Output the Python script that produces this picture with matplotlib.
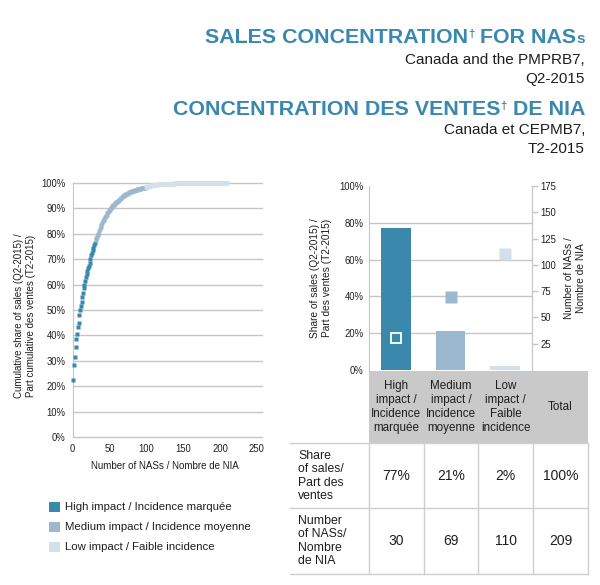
import numpy as np
import matplotlib
matplotlib.use("Agg")
import matplotlib.pyplot as plt
from matplotlib import font_manager as fm
from matplotlib.patches import Rectangle

# ---------------- data ----------------
categories = ["High impact / Incidence marquée",
              "Medium impact / Incidence moyenne",
              "Low impact / Faible incidence"]
table_headers = ["High\nimpact /\nIncidence\nmarquée",
                 "Medium\nimpact /\nIncidence\nmoyenne",
                 "Low\nimpact /\nFaible\nincidence",
                 "Total"]
share_of_sales = [77, 21, 2]          # %
number_of_nas = [30, 69, 110]
share_total_label = "100%"
nas_total = 209

cum_high = [22.5, 28.3, 31.4, 35.5, 38.5, 40.5, 43.5, 45.0, 48.0, 50.0,
            51.5, 53.0, 55.0, 56.5, 58.5, 60.0, 61.5, 63.0, 64.0, 65.5,
            66.5, 67.5, 68.5, 70.0, 71.5, 72.5, 73.5, 74.5, 75.5, 76.5]
cum_medium = [77.5, 78.2, 78.8, 79.4, 80.0, 81.0, 82.0, 82.8, 83.6, 84.3,
              85.0, 85.5, 86.0, 86.5, 87.0, 87.5, 88.0, 88.5, 89.0, 89.5,
              89.9, 90.2, 90.5, 90.9, 91.2, 91.5, 91.8, 92.1, 92.4, 92.6,
              92.9, 93.1, 93.4, 93.6, 93.9, 94.2, 94.5, 94.7, 94.9, 95.1,
              95.3, 95.5, 95.7, 95.8, 96.0, 96.2, 96.3, 96.5, 96.6, 96.7,
              96.8, 96.9, 97.0, 97.1, 97.2, 97.3, 97.4, 97.5, 97.6, 97.7,
              97.8, 97.8, 97.9, 98.0, 98.0, 98.1, 98.2, 98.2, 98.3]
cum_low = [98.4, 98.5, 98.6, 98.7, 98.8, 98.9, 99.0, 99.05, 99.1, 99.15,
           99.2, 99.25, 99.3, 99.33, 99.36, 99.39, 99.42, 99.45, 99.48, 99.5,
           99.52, 99.54, 99.56, 99.58, 99.6, 99.62, 99.64, 99.66, 99.68, 99.7,
           99.72, 99.74, 99.75, 99.76, 99.77, 99.78, 99.79, 99.8, 99.81, 99.82,
           99.83, 99.84, 99.85, 99.86, 99.86, 99.87, 99.87, 99.88, 99.88, 99.89,
           99.89, 99.9, 99.9, 99.9, 99.91, 99.91, 99.91, 99.92, 99.92, 99.92,
           99.93, 99.93, 99.93, 99.94, 99.94, 99.94, 99.94, 99.95, 99.95, 99.95,
           99.95, 99.96, 99.96, 99.96, 99.96, 99.97, 99.97, 99.97, 99.97, 99.97,
           99.98, 99.98, 99.98, 99.98, 99.98, 99.98, 99.99, 99.99, 99.99, 99.99,
           99.99, 99.99, 99.99, 99.99, 100.0, 100.0, 100.0, 100.0, 100.0, 100.0,
           100.0, 100.0, 100.0, 100.0, 100.0, 100.0, 100.0, 100.0, 100.0, 100.0]

left_yticks = [0, 10, 20, 30, 40, 50, 60, 70, 80, 90, 100]
left_xticks = [0, 50, 100, 150, 200, 250]
right_yticks_pct = [0, 20, 40, 60, 80, 100]
right_yticks_n = [25, 50, 75, 100, 125, 150, 175]

# ---------------- style ----------------
names = {f.name for f in fm.fontManager.ttflist}
REG = "Liberation Sans" if "Liberation Sans" in names else "DejaVu Sans"
NAR = "Liberation Sans Narrow" if "Liberation Sans Narrow" in names else REG
ns = 1.0 if NAR != REG else 0.88
plt.rcParams["font.family"] = [REG, "DejaVu Sans"]

C_HIGH = "#3B88AD"
C_MED = "#9BB8CF"
C_LOW = "#D3E0EA"
colors = [C_HIGH, C_MED, C_LOW]
TITLE_C = "#3A88B0"
GRID = "#C6C6C6"
HEADER_GRAY = "#C9C9C9"
TXT = "#1E1E1E"

W, H = 600, 585
fig = plt.figure(figsize=(W / 100, H / 100), dpi=100)
fig.patch.set_facecolor("white")

def px_axes(x0, y0, x1, y1, **kw):
    return fig.add_axes([x0 / W, 1 - y1 / H, (x1 - x0) / W, (y1 - y0) / H], **kw)

# overlay for text / table in pixel coordinates
ov = px_axes(0, 0, W, H)
ov.set_xlim(0, W)
ov.set_ylim(H, 0)
ov.axis("off")
ov.patch.set_alpha(0)

# ---------------- titles ----------------
fig.canvas.draw()
renderer = fig.canvas.get_renderer()

def width_px(s, size, weight="normal", family=REG):
    t = ov.text(0, 0, s, fontsize=size, fontweight=weight, family=family)
    w = t.get_window_extent(renderer).width
    t.remove()
    return w

def right_parts(parts, xr, yb, color, weight="bold"):
    x = xr
    for s, size, dy in reversed(parts):
        ov.text(x, yb - dy, s, fontsize=size, fontweight=weight, color=color,
                ha="right", va="baseline")
        x -= width_px(s, size, weight)

right_parts([("SALES CONCENTRATION", 15.4, 0), ("†", 8, 6),
             (" FOR NAS", 15.4, 0), ("s", 11, 0)], 585, 43, TITLE_C)
ov.text(585, 64, "Canada and the PMPRB7,", fontsize=11, color=TXT, ha="right", va="baseline")
ov.text(585, 83, "Q2-2015", fontsize=11, color=TXT, ha="right", va="baseline")
right_parts([("CONCENTRATION DES VENTES", 15.4, 0), ("†", 8, 6),
             (" DE NIA", 15.4, 0)], 585, 115, TITLE_C)
ov.text(585, 134, "Canada et CEPMB7,", fontsize=11, color=TXT, ha="right", va="baseline")
ov.text(585, 153, "T2-2015", fontsize=11, color=TXT, ha="right", va="baseline")

# ---------------- left chart: cumulative ----------------
ax1 = px_axes(72.7, 183, 262, 437)
ax1.set_xlim(0, 257)
ax1.set_ylim(0, 100)
for sp in ["top", "right", "bottom"]:
    ax1.spines[sp].set_visible(False)
ax1.spines["left"].set_color(GRID)
ax1.set_yticks(left_yticks)
ax1.set_yticklabels([f"{v}%" for v in left_yticks])
ax1.set_xticks(left_xticks)
ax1.tick_params(length=0, labelsize=7.8 * ns, colors=TXT, pad=5)
for lab in ax1.get_xticklabels() + ax1.get_yticklabels():
    lab.set_family(NAR)
ax1.grid(axis="y", color=GRID, lw=1)
ax1.set_axisbelow(True)
for ln in ax1.get_ygridlines():
    ln.set_clip_on(False)

start = 1
for vals, c in zip([cum_high, cum_medium, cum_low], colors):
    xs = np.arange(start, start + len(vals))
    ax1.plot(xs, vals, ls="none", marker="s", ms=3.1, mec="none", mfc=c,
             clip_on=False, zorder=3)
    start += len(vals)

ov.text(165, 466, "Number of NASs / Nombre de NIA", fontsize=8 * ns,
        family=NAR, color=TXT, ha="center", va="center")
ov.text(25, 316, "Cumulative share of sales (Q2-2015) /\nPart cumulative des ventes (T2-2015)",
        fontsize=8 * ns, family=NAR, color=TXT, ha="center", va="center",
        rotation=90, linespacing=1.15)

# legend
for i, (cat, c) in enumerate(zip(categories, colors)):
    y = 507 + i * 20
    ov.add_patch(Rectangle((49, y - 5), 11, 10, facecolor=c, edgecolor="none"))
    ov.text(65, y, cat, fontsize=8.2, color=TXT, va="center", ha="left")

# ---------------- right chart ----------------
ov.add_patch(Rectangle((369, 370.5), 219, 72.5, facecolor=HEADER_GRAY, edgecolor="none", zorder=0))

ax2 = px_axes(369, 186, 532, 370)
ax2.patch.set_alpha(0)
xcat = np.arange(len(share_of_sales))
ax2.set_xlim(-0.5, 2.5)
ax2.set_ylim(0, 100)
ax2.bar(xcat, share_of_sales, width=0.55, color=colors, zorder=2)
ax2.set_yticks(right_yticks_pct)
ax2.set_yticklabels([f"{v}%" for v in right_yticks_pct])
ax2.set_xticks([])
ax2.tick_params(axis="y", length=0, labelsize=7.8 * ns, colors=TXT, pad=4)
for lab in ax2.get_yticklabels():
    lab.set_family(NAR)
ax2.grid(axis="y", color=GRID, lw=1)
ax2.set_axisbelow(True)
for sp in ["top", "bottom"]:
    ax2.spines[sp].set_visible(False)
for sp in ["left", "right"]:
    ax2.spines[sp].set_color(GRID)
ax2.get_ygridlines()[-1].set_visible(False)
ax2.get_ygridlines()[0].set_visible(False)

ax3 = ax2.twinx()
ax3.set_ylim(0, 175)
ax3.set_yticks(right_yticks_n)
ax3.tick_params(axis="y", length=4, width=1, color=GRID, labelsize=7.8 * ns,
                labelcolor=TXT, pad=2)
for lab in ax3.get_yticklabels():
    lab.set_family(NAR)
for sp in ["top", "bottom", "left"]:
    ax3.spines[sp].set_visible(False)
ax3.spines["right"].set_color(GRID)
for i, (n, c) in enumerate(zip(number_of_nas, colors)):
    if i == 0:
        ax3.plot([xcat[i]], [n], marker="s", ms=7.5, mfc=c, mec="white", mew=1.3,
                 ls="none", zorder=4)
    else:
        ax3.plot([xcat[i]], [n], marker="s", ms=8.5, mfc=c, mec="none",
                 ls="none", zorder=4)

ov.text(321, 278, "Share of sales (Q2-2015) /\nPart des ventes (T2-2015)",
        fontsize=8.3 * ns, family=NAR, color=TXT, ha="center", va="center",
        rotation=90, linespacing=1.15)
ov.text(575, 278, "Number of NASs /\nNombre de NIA",
        fontsize=8.3 * ns, family=NAR, color=TXT, ha="center", va="center",
        rotation=90, linespacing=1.15)

# ---------------- table ----------------
col_edges = [369, 423.7, 478.3, 533, 588]
row_edges = [443, 508, 574]
LINE = "#CFCFCF"
for yv in row_edges:
    ov.plot([290, 588], [yv, yv], color=LINE, lw=1)
for xv in col_edges:
    ov.plot([xv, xv], [443, 574], color=LINE, lw=1)

centers = [(col_edges[i] + col_edges[i + 1]) / 2 for i in range(4)]
for cx, hdr in zip(centers, table_headers):
    ov.text(cx, 407, hdr, fontsize=9.5 * ns, family=NAR, color=TXT,
            ha="center", va="center", linespacing=1.24)

row_labels = ["Share\nof sales/\nPart des\nventes", "Number\nof NASs/\nNombre\nde NIA"]
row_centers = [476, 541]
for yc, lab in zip(row_centers, row_labels):
    ov.text(298, yc, lab, fontsize=8.8, color=TXT, ha="left", va="center", linespacing=1.12)

share_cells = [f"{v}%" for v in share_of_sales] + [share_total_label]
nas_cells = [str(v) for v in number_of_nas] + [str(nas_total)]
for cx, s in zip(centers, share_cells):
    ov.text(cx, row_centers[0], s, fontsize=10, color=TXT, ha="center", va="center")
for cx, s in zip(centers, nas_cells):
    ov.text(cx, row_centers[1], s, fontsize=10, color=TXT, ha="center", va="center")

fig.savefig("out.png", dpi=100, facecolor="white")
